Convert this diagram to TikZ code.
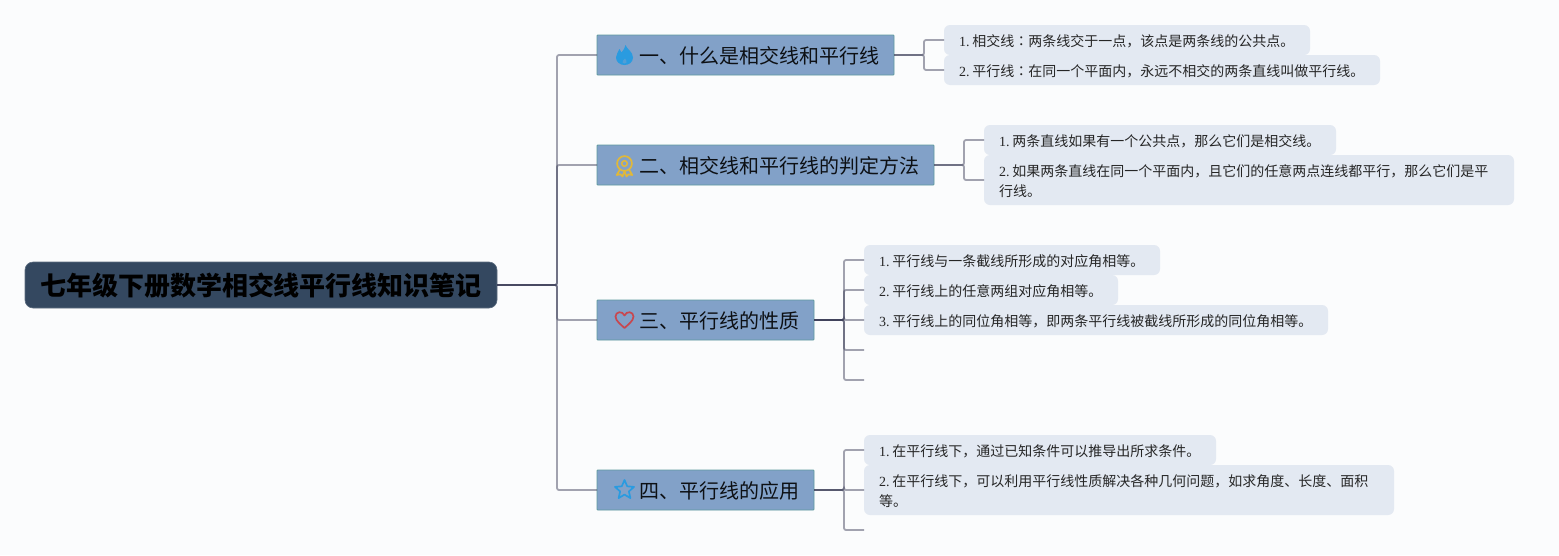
\documentclass[tikz,border=0pt]{standalone}
\usepackage{fontspec}
\setmainfont{Liberation Serif}
\newfontfamily\cjk{Noto Sans CJK SC}
\newfontfamily\cjkjp{Noto Sans CJK JP}
\usetikzlibrary{positioning}
\newcommand\numgap{\kern2.9pt}
\definecolor{pagebg}{HTML}{FBFCFD}
\definecolor{rootfill}{HTML}{344860}
\definecolor{topicfill}{HTML}{82A1C8}
\definecolor{topicline}{HTML}{5E9A9E}
\definecolor{itemfill}{HTML}{E3E9F2}
\definecolor{linkcol}{HTML}{383A55}
\definecolor{fireblue}{HTML}{2A9BE0}
\definecolor{medal}{HTML}{E0B83A}
\definecolor{heartred}{HTML}{C8474F}
\tikzset{
 flameicon/.pic={
  \fill[fireblue] (1,10) .. controls (2,6) and (8.5,3.5) .. (8.5,-2.5) .. controls (8.5,-7.5) and (4,-10) .. (0,-10)
   .. controls (-4.5,-10) and (-8.5,-7) .. (-8.5,-2.5) .. controls (-8.5,1) and (-6,3) .. (-5,6)
   .. controls (-4,5) and (-3.5,4) .. (-3,2.5) .. controls (-1,5) and (0.5,7) .. (1,10) -- cycle;
  \fill[topicfill!45!fireblue] (0.5,-3.5) .. controls (1.5,-5) and (2.5,-6) .. (2,-7.5) .. controls (1.5,-9) and (-1.5,-9) .. (-2,-7.5)
   .. controls (-2.5,-6) and (-0.5,-5) .. (0.5,-3.5) -- cycle;
 },
 medalicon/.pic={
  \draw[medal,line width=1.7pt] (0,2) circle (7.4);
  \draw[medal,line width=1.5pt] (0,2) circle (2.8);
  \draw[medal,line width=1.7pt,line join=round] (-4.5,-4) -- (-7.8,-9.5) -- (-4,-8.8) -- (-2,-11) -- (0,-5.5) -- (2,-11) -- (4,-8.8) -- (7.8,-9.5) -- (4.5,-4);
 },
 hearticon/.pic={
  \draw[heartred,line width=1.7pt,line join=round] (0,-8) .. controls (-3,-5) and (-9,-1) .. (-9,3.5) .. controls (-9,8.5) and (-2,9.5) .. (0,4.5)
   .. controls (2,9.5) and (9,8.5) .. (9,3.5) .. controls (9,-1) and (3,-5) .. (0,-8) -- cycle;
 },
 staricon/.pic={
  \draw[fireblue,line width=1.7pt,line join=round] (90:10) -- (126:4.6) -- (162:10) -- (198:4.6) -- (234:10) -- (270:4.6) -- (306:10) -- (342:4.6) -- (18:10) -- (54:4.6) -- cycle;
 }
}
\begin{document}
\frenchspacing
\begin{tikzpicture}[x=1pt,y=1pt,node distance=50pt,outer sep=0pt,
 rootbox/.style={fill=rootfill,draw=rootfill!80!white,line width=.6pt,rounded corners=8pt,minimum width=472pt,minimum height=46pt,
 inner xsep=0pt,text height=25pt,text depth=3.2pt,text=black,font=\fontsize{26}{30}\selectfont\cjk\bfseries},
 topic/.style={fill=topicfill,draw=topicline,line width=.8pt,rounded corners=.8pt,minimum height=40pt,inner xsep=14pt,
 text height=20pt,text depth=2.8pt,text=black!90!topicfill,font=\fontsize{20}{24}\selectfont\cjk,
 execute at begin node=\hspace*{28pt},execute at end node=\hspace*{1pt}},
 item/.style={fill=itemfill,rounded corners=6pt,text width=#1,inner xsep=15pt,inner ysep=0pt,minimum height=30pt,
 text height=15pt,text depth=2.4pt,align=left,text=black!85,font=\fontsize{14}{20}\selectfont},
 tall/.style={minimum height=50pt,text depth=22.4pt},
 link/.style={draw=linkcol,draw opacity=.46,line width=1.8pt,rounded corners=2pt}]
\useasboundingbox[fill=pagebg] (0,0) rectangle (1559,-555);
\node[rootbox] (root) at (261,-285) {七年级下册数学相交线平行线知识笔记};
\node[topic,right=100pt of root.east,yshift=230pt] (t1) {一、什么是相交线和平行线};
\node[topic,right=100pt of root.east,yshift=120pt] (t2) {二、相交线和平行线的判定方法};
\node[topic,right=100pt of root.east,yshift=-35pt] (t3) {三、平行线的性质};
\node[topic,right=100pt of root.east,yshift=-205pt] (t4) {四、平行线的应用};
\node[item=336pt,right=of t1.east,yshift=15pt] (a1) {1.\numgap{\cjk 相交线{\cjkjp ：}两条线交于一点，该点是两条线的公共点。}};
\node[item=406pt,right=of t1.east,yshift=-15pt] (a2) {2.\numgap{\cjk 平行线{\cjkjp ：}在同一个平面内，永远不相交的两条直线叫做平行线。}};
\node[item=322pt,right=of t2.east,yshift=25pt] (b1) {1.\numgap{\cjk 两条直线如果有一个公共点，那么它们是相交线。}};
\node[item=500pt,tall,right=of t2.east,yshift=-15pt] (b2) {2.\numgap{\cjk 如果两条直线在同一个平面内，且它们的任意两点连线都平行，那么它们是平}\\{\cjk 行线。}};
\node[item=266pt,right=of t3.east,yshift=60pt] (c1) {1.\numgap{\cjk 平行线与一条截线所形成的对应角相等。}};
\node[item=224pt,right=of t3.east,yshift=30pt] (c2) {2.\numgap{\cjk 平行线上的任意两组对应角相等。}};
\node[item=434pt,right=of t3.east] (c3) {3.\numgap{\cjk 平行线上的同位角相等，即两条平行线被截线所形成的同位角相等。}};
\coordinate[right=of t3.east,yshift=-30pt] (c4);
\coordinate[right=of t3.east,yshift=-60pt] (c5);
\node[item=322pt,right=of t4.east,yshift=40pt] (d1) {1.\numgap{\cjk 在平行线下，通过已知条件可以推导出所求条件。}};
\node[item=500pt,tall,right=of t4.east] (d2) {2.\numgap{\cjk 在平行线下，可以利用平行线性质解决各种几何问题，如求角度、长度、面积}\\{\cjk 等。}};
\coordinate[right=of t4.east,yshift=-40pt] (d3);
\coordinate[right=60pt of root.east] (trunk);
\coordinate[right=30pt of t1.east] (fork1);
\coordinate[right=30pt of t2.east] (fork2);
\coordinate[right=30pt of t3.east] (fork3);
\coordinate[right=30pt of t4.east] (fork4);
\foreach \c in {t1,t2,t3,t4}
 \draw[link] (root.east) -- (trunk) |- (\c.west);
\foreach \c in {a1,a2}
 \draw[link] (t1.east) -- (fork1) |- (\c.west);
\foreach \c in {b1,b2}
 \draw[link] (t2.east) -- (fork2) |- (\c.west);
\foreach \c in {c1.west,c2.west,c3.west,c4,c5}
 \draw[link] (t3.east) -- (fork3) |- (\c);
\foreach \c in {d1.west,d2.west,d3}
 \draw[link] (t4.east) -- (fork4) |- (\c);
\pic at ([xshift=27.5pt]t1.west) {flameicon};
\pic at ([xshift=27.5pt,yshift=-.5pt]t2.west) {medalicon};
\pic at ([xshift=27.5pt]t3.west) {hearticon};
\pic at ([xshift=27.5pt]t4.west) {staricon};
\end{tikzpicture}
\end{document}
